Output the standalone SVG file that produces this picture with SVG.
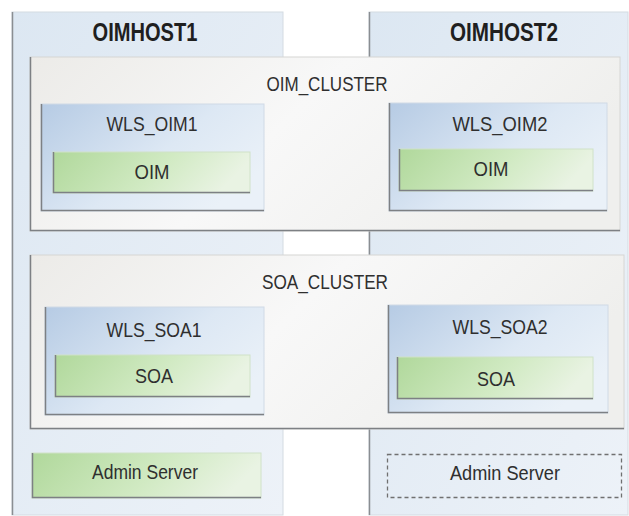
<svg xmlns="http://www.w3.org/2000/svg" width="629" height="516" viewBox="0 0 629 516">
<defs>
<linearGradient id="gHost" x1="0" y1="0" x2="1" y2="1">
<stop offset="0" stop-color="#dce7f2"/><stop offset="1" stop-color="#edf2f8"/>
</linearGradient>
<linearGradient id="gCluster" x1="0" y1="0" x2="1" y2="0.3">
<stop offset="0" stop-color="#ecebe8"/><stop offset="0.5" stop-color="#f8f8f8"/><stop offset="1" stop-color="#efefed"/>
</linearGradient>
<linearGradient id="gWls" x1="0" y1="0" x2="1" y2="0.6">
<stop offset="0" stop-color="#b6cbe4"/><stop offset="0.6" stop-color="#dde8f4"/><stop offset="1" stop-color="#eaf1f8"/>
</linearGradient>
<linearGradient id="gGreen" x1="0" y1="0" x2="1" y2="0.2">
<stop offset="0" stop-color="#b0d89b"/><stop offset="0.6" stop-color="#d1eac3"/><stop offset="1" stop-color="#e9f3e3"/>
</linearGradient>
</defs>
<style>
.host{fill:url(#gHost);stroke:#d4dbe2;stroke-width:1}
.cluster{fill:url(#gCluster);stroke:#d6d6d4;stroke-width:1}
.wls{fill:url(#gWls);stroke:#d0dae6;stroke-width:1}
.green{fill:url(#gGreen);stroke:#d0e2c8;stroke-width:1}
.edge{fill:none;stroke:#7d8084;stroke-width:1.5}
.edgeL{fill:none;stroke:#8a8e92;stroke-width:1.5}
.dash{fill:none;stroke:#707070;stroke-width:1.3;stroke-dasharray:4 3}
text{font-family:"Liberation Sans",Arial,sans-serif;fill:#2f2f2f;text-anchor:middle}
.t{font-size:21px}
.h{font-size:25px;font-weight:bold;fill:#1f1f1f}
</style>
<rect width="629" height="516" fill="#ffffff"/>
<g id="OIMHOST1">
<rect class="host" x="12" y="12" width="271" height="503"/>
<path class="edgeL" d="M12.5,12 V515"/>
<text class="h" x="145" y="41" textLength="105" lengthAdjust="spacingAndGlyphs">OIMHOST1</text>
</g>
<g id="OIMHOST2">
<rect class="host" x="369" y="12" width="259" height="503"/>
<path class="edgeL" d="M369.5,12 V515"/>
<text class="h" x="504" y="41" textLength="108" lengthAdjust="spacingAndGlyphs">OIMHOST2</text>
</g>
<g id="OIM_CLUSTER">
<rect class="cluster" x="30" y="57" width="590" height="174"/>
<path class="edge" d="M30.5,57 V230.5 H620"/>
<text class="t" x="327" y="91" textLength="121" lengthAdjust="spacingAndGlyphs">OIM_CLUSTER</text>
</g>
<g id="SOA_CLUSTER">
<rect class="cluster" x="30" y="255" width="594" height="174"/>
<path class="edge" d="M30.5,255 V428.5 H624"/>
<text class="t" x="325" y="289" textLength="126" lengthAdjust="spacingAndGlyphs">SOA_CLUSTER</text>
</g>
<g id="WLS_OIM1">
<rect class="wls" x="41" y="104" width="223" height="107"/>
<path class="edge" d="M41.5,104 V210.5 H264"/>
<text class="t" x="152" y="131" textLength="91" lengthAdjust="spacingAndGlyphs">WLS_OIM1</text>
</g>
<g id="OIM1">
<rect class="green" x="53" y="152" width="197" height="41"/>
<path class="edge" d="M53.5,152 V192.5 H250"/>
<text class="t" x="152" y="179" textLength="35" lengthAdjust="spacingAndGlyphs">OIM</text>
</g>
<g id="WLS_OIM2">
<rect class="wls" x="389" y="103" width="218" height="108"/>
<path class="edge" d="M389.5,103 V210.5 H607"/>
<text class="t" x="500" y="131" textLength="95" lengthAdjust="spacingAndGlyphs">WLS_OIM2</text>
</g>
<g id="OIM2">
<rect class="green" x="399" y="149" width="194" height="42"/>
<path class="edge" d="M399.5,149 V190.5 H593"/>
<text class="t" x="491" y="176" textLength="35" lengthAdjust="spacingAndGlyphs">OIM</text>
</g>
<g id="WLS_SOA1">
<rect class="wls" x="45" y="307" width="219" height="108"/>
<path class="edge" d="M45.5,307 V414.5 H264"/>
<text class="t" x="154" y="337" textLength="95" lengthAdjust="spacingAndGlyphs">WLS_SOA1</text>
</g>
<g id="SOA1">
<rect class="green" x="55" y="355" width="195" height="42"/>
<path class="edge" d="M55.5,355 V396.5 H250"/>
<text class="t" x="154" y="383" textLength="38" lengthAdjust="spacingAndGlyphs">SOA</text>
</g>
<g id="WLS_SOA2">
<rect class="wls" x="388" y="305" width="220" height="108"/>
<path class="edge" d="M388.5,305 V412.5 H608"/>
<text class="t" x="500" y="334" textLength="95" lengthAdjust="spacingAndGlyphs">WLS_SOA2</text>
</g>
<g id="SOA2">
<rect class="green" x="397" y="357" width="196" height="42"/>
<path class="edge" d="M397.5,357 V398.5 H593"/>
<text class="t" x="496" y="386" textLength="38" lengthAdjust="spacingAndGlyphs">SOA</text>
</g>
<g id="AdminServer1">
<rect class="green" x="32" y="453" width="229" height="45"/>
<path class="edge" d="M32.5,453 V497.5 H261"/>
<text class="t" x="145" y="479" textLength="106" lengthAdjust="spacingAndGlyphs">Admin Server</text>
</g>
<g id="AdminServer2">
<rect class="dash" x="387.5" y="454.5" width="234" height="43"/>
<text class="t" x="505" y="480" textLength="110" lengthAdjust="spacingAndGlyphs">Admin Server</text>
</g>
<g id="connectors"/>
</svg>
